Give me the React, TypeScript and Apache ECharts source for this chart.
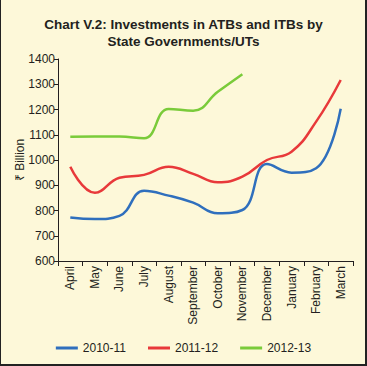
import React, { useEffect, useRef } from "react";
import * as echarts from "echarts";

const months = ["April", "May", "June", "July", "August", "September", "October", "November", "December", "January", "February", "March"];
const s2010 = [772, 766, 779, 878, 859, 831, 789, 802, 984, 950, 967, 1203];
const s2011 = [973, 870, 930, 941, 973, 945, 912, 934, 1000, 1033, 1152, 1317];
const s2012 = [1092, 1093, 1093, 1086, 1202, 1195, 1270, 1340];
const seriesNames = ["2010-11", "2011-12", "2012-13"];
const colors = ["#2f6fbd", "#e8393a", "#7acb3a"];

export default function App() {
  const ref = useRef<HTMLDivElement>(null);
  useEffect(() => {
    document.body.style.margin = "0";
    const chart = echarts.init(ref.current!, null, { renderer: "svg" });
    const font = "Liberation Sans, Arial, sans-serif";
    chart.setOption({
      animation: false,
      backgroundColor: "#fdf8d9",
      textStyle: { fontFamily: font },
      title: {
        text: "Chart V.2: Investments in ATBs and ITBs by\nState Governments/UTs",
        left: "center",
        top: 11,
        textStyle: { fontSize: 13.5, fontWeight: "bold", color: "#231f20", lineHeight: 17, fontFamily: font },
      },
      grid: { left: 58, right: 14, top: 59, bottom: 105, containLabel: false },
      legend: {
        bottom: 7,
        left: "center",
        itemWidth: 22,
        itemHeight: 3,
        itemGap: 22,
        icon: "rect",
        textStyle: { fontSize: 12, color: "#231f20", fontFamily: font },
        data: seriesNames,
      },
      xAxis: {
        type: "category",
        data: months,
        boundaryGap: true,
        axisLine: { lineStyle: { color: "#231f20", width: 1 } },
        axisTick: { show: true, length: 5, lineStyle: { color: "#231f20" } },
        axisLabel: { rotate: 90, fontSize: 12, color: "#231f20", margin: 5, interval: 0 },
      },
      yAxis: {
        type: "value",
        min: 600,
        max: 1400,
        interval: 100,
        name: "₹ Billion",
        nameLocation: "middle",
        nameGap: 32,
        nameMoveOverlap: false,
        nameTextStyle: { fontSize: 12, color: "#231f20", fontFamily: font },
        axisLine: { show: true, lineStyle: { color: "#231f20", width: 1 } },
        axisTick: { show: true, length: 4, lineStyle: { color: "#231f20" } },
        axisLabel: { fontSize: 12, color: "#231f20", margin: 3, formatter: (v: number) => String(v) },
        splitLine: { show: false },
      },
      series: [s2010, s2011, s2012].map((d, i) => ({
        name: seriesNames[i],
        type: "line",
        data: d,
        smooth: 0.45,
        symbol: "none",
        lineStyle: { color: colors[i], width: 2.5 },
        itemStyle: { color: colors[i] },
      })),
    });
    return () => chart.dispose();
  }, []);
  return (
    <div style={{ position: "absolute", left: 0, top: 0, width: 367, height: 366 }}>
      <div ref={ref} style={{ width: 367, height: 366 }} />
      <div style={{ position: "absolute", left: 0, top: 0, width: 367, height: 366, boxSizing: "border-box", borderLeft: "1px solid #222", borderRight: "2px solid #222", borderBottom: "2px solid #222", pointerEvents: "none" }} />
    </div>
  );
}
